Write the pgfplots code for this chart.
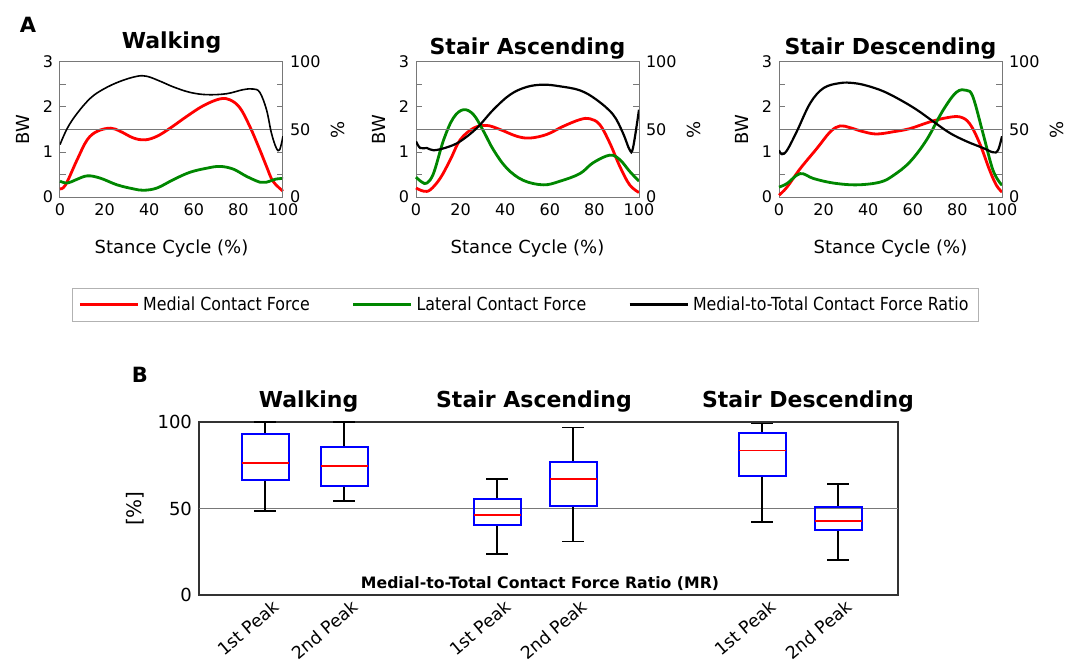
\documentclass[border=0pt]{standalone}
\usepackage{fontspec}
\setmainfont{DejaVu Sans}
\newfontfamily\condfont[FakeStretch=0.88]{DejaVu Sans}
\usepackage{pgfplots}
\pgfplotsset{compat=1.18}
\usepgfplotslibrary{statistics}

\definecolor{mred}{RGB}{255,0,0}
\definecolor{mgreen}{RGB}{0,135,0}
\definecolor{axgray}{RGB}{120,120,120}
\definecolor{mblue}{RGB}{0,0,255}

\pgfplotsset{
  every axis/.append style={/pgf/number format/assume math mode=true},
  panelA/.style={
    scale only axis, width=111.5pt, height=67.5pt,
    xmin=0, xmax=100, ymin=0, ymax=3,
    axis line style={axgray, line width=0.5pt},
    xtick={0,20,...,100}, xtick style={draw=none},
    ytick={0,0.5,...,3}, yticklabels={0,,1,,2,,3},
    ytick style={axgray, line width=0.5pt}, major tick length=3pt,
    tick label style={font=\fontsize{8}{9}\selectfont},
    label style={font=\fontsize{9}{10}\selectfont},
    xlabel={Stance Cycle (\%)},
    xlabel style={yshift=-5pt},
    ylabel={BW},
    title style={font=\bfseries\fontsize{11}{13}\selectfont, at={(0.5,1)}, anchor=base},
    clip=false,
  },
  panelAR/.style={
    scale only axis, width=111.5pt, height=67.5pt,
    xmin=0, xmax=100, ymin=0, ymax=100,
    axis x line=none, axis y line*=right,
    axis line style={-, axgray, line width=0.5pt},
    ytick={0,50,100}, ytick style={draw=none},
    tick label style={font=\fontsize{8}{9}\selectfont},
    label style={font=\fontsize{9}{10}\selectfont},
    ylabel={\%}, ylabel style={yshift=1.5pt},
  },
  red line/.style={mred, line width=1.4pt, smooth, tension=0.6},
  green line/.style={mgreen, line width=1.4pt, smooth, tension=0.6},
  black line/.style={black, line width=1.1pt, smooth, tension=0.6},
}

\begin{document}
\begin{tikzpicture}
\path[use as bounding box] (0pt,0pt) rectangle (533.5pt,-332pt);

% ---------------- Panel A: Walking ----------------
\begin{axis}[panelA, at={(30pt,-98.5pt)}, anchor=south west,
  title={Walking}, title style={yshift=0.5pt},
  legend columns=3,
  legend style={at={(0.054,-0.674)}, anchor=north west,
    draw=black!30, line width=0.4pt,
    font=\condfont\fontsize{9}{11}\selectfont,
    inner xsep=3pt, inner ysep=2pt,
    /tikz/every even column/.append style={column sep=19pt}},
  legend image code/.code={\draw[#1] (0pt,0pt) -- (29pt,0pt);},
  legend cell align=left]
\addplot[red line] coordinates {(0,0.18)(2.5,0.27)(7.7,0.83)(12.2,1.27)(16.7,1.46)(22.6,1.53)(27,1.46)(33,1.31)(38.2,1.27)(43.5,1.35)(49.4,1.53)(56.8,1.79)(64.3,2.03)(71.7,2.18)(76.2,2.16)(80.7,1.98)(85.1,1.57)(89.6,1.05)(92.6,0.68)(95.5,0.35)(100,0.13)};
\addlegendentry{Medial Contact Force}
\addplot[green line] coordinates {(0,0.35)(3.3,0.31)(7,0.38)(12.2,0.47)(18,0.42)(25.6,0.27)(33,0.18)(37.5,0.15)(43.5,0.2)(51,0.39)(58.3,0.55)(65.8,0.64)(71.7,0.68)(77.7,0.62)(83.6,0.46)(89.6,0.33)(92.6,0.33)(97,0.4)(100,0.41)};
\addlegendentry{Lateral Contact Force}
\addlegendimage{black, line width=1.4pt}
\addlegendentry{Medial-to-Total Contact Force Ratio}
\end{axis}
\begin{axis}[panelAR, at={(30pt,-98.5pt)}, anchor=south west]
\addplot[axgray, line width=0.5pt] coordinates {(0,50)(100,50)};
\addplot[black line, line width=0.8pt] coordinates {(0,38.8)(3.3,51)(7.7,62)(13.7,73.3)(19.6,80)(27,85.7)(34.5,89.4)(39,89.4)(45,85.7)(50.9,81.5)(58.3,77.5)(65.8,75.8)(74.7,76.5)(82.1,79.5)(86.6,80)(89.6,77.5)(92.6,64.7)(94.8,47.4)(97,36.3)(98.5,35)(100,45)};
\end{axis}

% ---------------- Panel A: Stair Ascending ----------------
\begin{axis}[panelA, at={(208pt,-98.5pt)}, anchor=south west,
  title={Stair Ascending}, title style={yshift=-2.5pt}]
\addplot[red line] coordinates {(0,0.2)(3.4,0.13)(6.4,0.16)(10.9,0.42)(15.4,0.83)(19.8,1.27)(25.8,1.53)(31.7,1.59)(37.7,1.5)(45.2,1.35)(51.1,1.31)(58.6,1.39)(66,1.57)(73.5,1.72)(77.9,1.74)(82.4,1.61)(86.9,1.2)(91.4,0.68)(95.8,0.27)(100,0.1)};
\addplot[green line] coordinates {(0,0.44)(2.7,0.33)(4.9,0.31)(7.9,0.53)(12.4,1.27)(16.8,1.76)(21.3,1.94)(25.8,1.83)(30.3,1.46)(34.7,1.05)(40.7,0.64)(48.1,0.37)(57.1,0.27)(64.5,0.35)(73.5,0.52)(79.4,0.76)(86.9,0.93)(91.4,0.83)(95.8,0.57)(100,0.35)};
\end{axis}
\begin{axis}[panelAR, at={(208pt,-98.5pt)}, anchor=south west]
\addplot[axgray, line width=0.5pt] coordinates {(0,50)(100,50)};
\addplot[black line] coordinates {(0,41.2)(1.9,36.3)(4.9,36.3)(7.9,34.6)(13.9,36.8)(19.8,41.2)(27.3,51.1)(34.7,64.7)(42.2,75.8)(49.6,81.5)(57.1,83.2)(64.5,82)(73.5,79)(80.9,72.1)(88.4,61)(92.8,47.4)(95.8,35)(97.3,36.3)(100,64.7)};
\end{axis}

% ---------------- Panel A: Stair Descending ----------------
\begin{axis}[panelA, at={(389.5pt,-98.5pt)}, anchor=south west,
  title={Stair Descending}, title style={yshift=-2.5pt}]
\addplot[red line] coordinates {(0,0.04)(3.6,0.22)(9.5,0.63)(17,1.08)(23,1.45)(27.4,1.58)(31.9,1.54)(37.9,1.45)(43.8,1.4)(51.3,1.45)(58.7,1.52)(67.7,1.67)(75.1,1.76)(81.1,1.78)(85.5,1.63)(90,1.19)(94.5,0.59)(97.5,0.26)(100,0.11)};
\addplot[green line] coordinates {(0,0.22)(3.6,0.3)(9.5,0.52)(15.5,0.41)(24.4,0.31)(34.9,0.27)(45.3,0.33)(51.3,0.48)(58.7,0.78)(66.2,1.27)(73.6,1.93)(79.6,2.33)(84.1,2.37)(87,2.22)(91.5,1.41)(96,0.59)(100,0.26)};
\end{axis}
\begin{axis}[panelAR, at={(389.5pt,-98.5pt)}, anchor=south west]
\addplot[axgray, line width=0.5pt] coordinates {(0,50)(100,50)};
\addplot[black line] coordinates {(0,34.6)(1.3,31.7)(3.6,34.6)(8,48.6)(14,69.5)(20,80.7)(27.4,84.4)(33.4,84.4)(39.3,82.5)(46.8,78.3)(54.2,72.1)(61.7,64.7)(69.1,56)(76.6,47.4)(84.1,41.2)(91.5,36.3)(96,33.1)(98.2,34.6)(100,45)};
\end{axis}

\node[font=\bfseries\fontsize{10.5}{12}\selectfont] at (14pt,-12.5pt) {A};

% ---------------- Panel B ----------------
\begin{axis}[scale only axis, width=349.5pt, height=86.5pt,
  at={(99.5pt,-297.5pt)}, anchor=south west,
  xmin=0, xmax=699, ymin=0, ymax=100,
  axis line style={black!80, line width=0.7pt},
  ytick={0,50,100}, ytick style={black!80, line width=0.6pt}, major tick length=3pt,
  xtick={66,145,298,374,563,639},
  xticklabels={1st Peak,2nd Peak,1st Peak,2nd Peak,1st Peak,2nd Peak},
  xtick style={draw=none},
  xticklabel style={font=\fontsize{8.7}{10}\selectfont, xshift=4pt, yshift=3pt, rotate=40, anchor=north east},
  yticklabel style={font=\fontsize{9}{10}\selectfont},
  ylabel={[\%]}, ylabel style={font=\fontsize{10}{11}\selectfont},
  clip=false,
  boxplot/draw direction=y,
  boxplot/every box/.style={draw=mblue, line width=1pt},
  boxplot/every whisker/.style={black, line width=0.8pt},
  boxplot/every median/.style={mred, line width=0.8pt},
]
\addplot[axgray, line width=0.6pt] coordinates {(0,50)(699,50)};
\addplot[black, boxplot prepared={lower whisker=48.6, lower quartile=66.5, median=76.3, upper quartile=93.3, upper whisker=100, draw position=66, box extend=47, whisker extend=22}] coordinates {};
\addplot[black, boxplot prepared={lower whisker=54.3, lower quartile=63.2, median=74.6, upper quartile=85.5, upper whisker=100, draw position=145, box extend=47, whisker extend=22}] coordinates {};
\addplot[black, boxplot prepared={lower whisker=23.7, lower quartile=40.3, median=46.4, upper quartile=55.3, upper whisker=67, draw position=298, box extend=47, whisker extend=22}] coordinates {};
\addplot[black, boxplot prepared={lower whisker=31, lower quartile=51.6, median=66.9, upper quartile=76.7, upper whisker=96.9, draw position=374, box extend=47, whisker extend=22}] coordinates {};
\addplot[black, boxplot prepared={lower whisker=42.2, lower quartile=68.6, median=83.6, upper quartile=93.6, upper whisker=99.2, draw position=563, box extend=47, whisker extend=22}] coordinates {};
\addplot[black, boxplot prepared={lower whisker=20.2, lower quartile=37.4, median=42.8, upper quartile=51, upper whisker=64.2, draw position=639, box extend=47, whisker extend=22}] coordinates {};
\end{axis}

\node[anchor=base, font=\bfseries\fontsize{11}{13}\selectfont] at (154.25pt,-203.5pt) {Walking};
\node[anchor=base, font=\bfseries\fontsize{11}{13}\selectfont] at (267pt,-203.5pt) {Stair Ascending};
\node[anchor=base, font=\bfseries\fontsize{11}{13}\selectfont] at (404pt,-203.5pt) {Stair Descending};
\node[anchor=base, font=\bfseries\fontsize{7.85}{9}\selectfont] at (270pt,-294pt) {Medial-to-Total Contact Force Ratio (MR)};
\node[font=\bfseries\fontsize{10.5}{12}\selectfont] at (70pt,-187.5pt) {B};
\end{tikzpicture}
\end{document}
